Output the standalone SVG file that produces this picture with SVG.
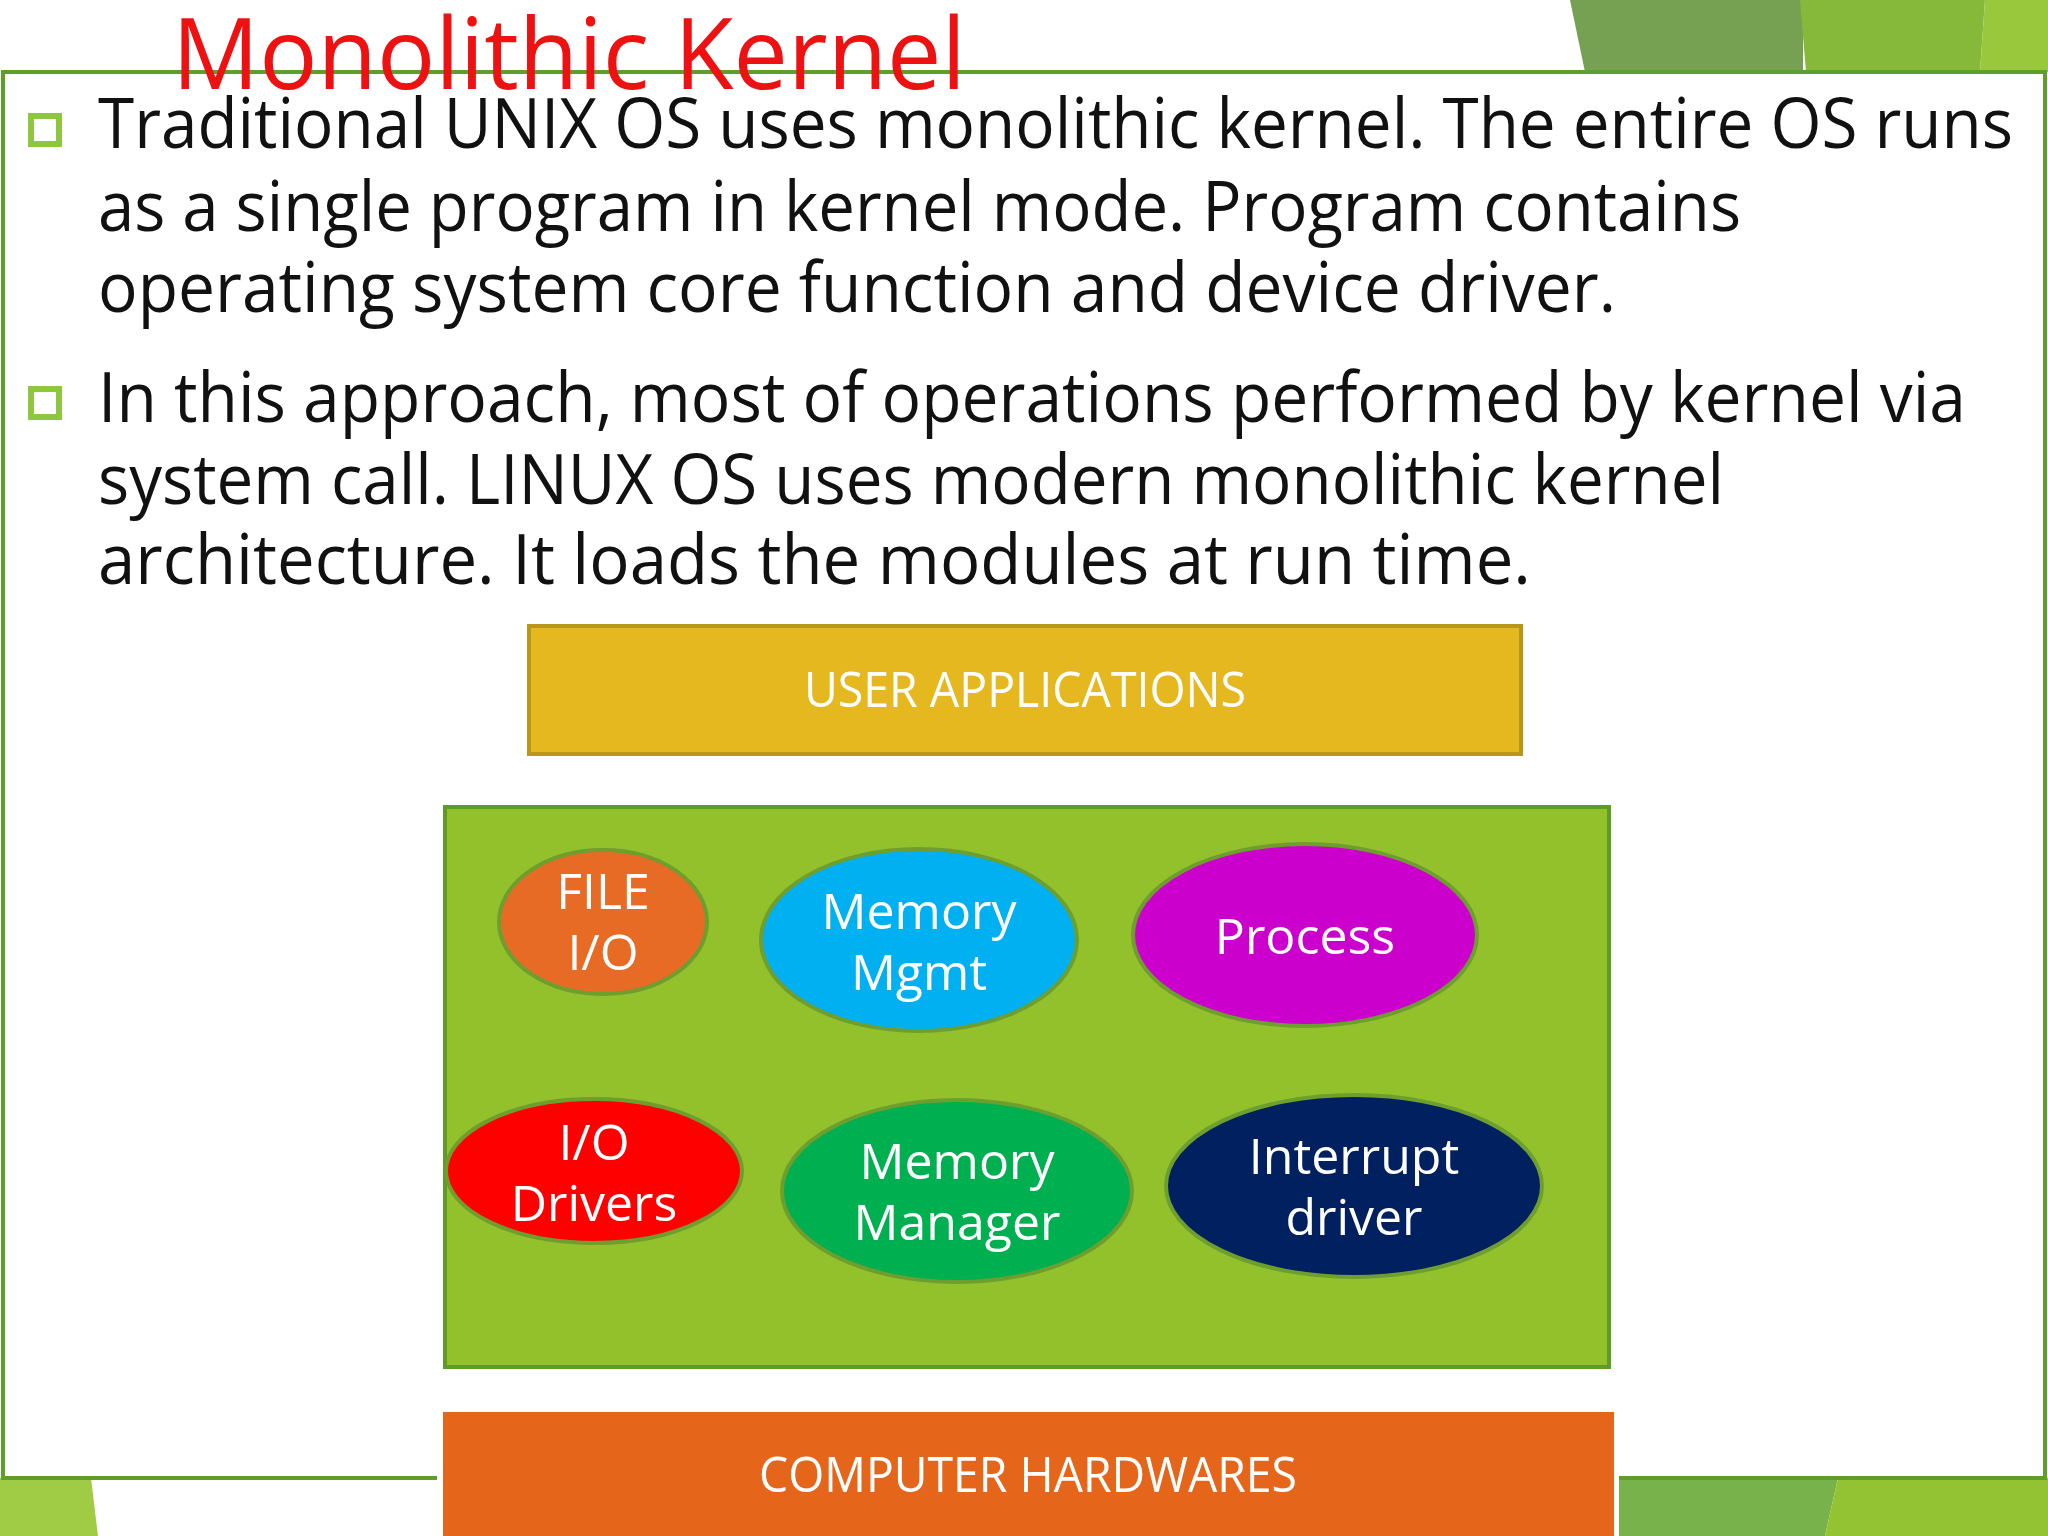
<svg xmlns="http://www.w3.org/2000/svg" width="2048" height="1536" viewBox="0 0 2048 1536">
<style>
text{font-family:"Open Sans","DejaVu Sans",sans-serif}
.body{font-size:70px;fill:#111}
.lbl{font-size:50px;fill:#fff;text-anchor:middle}
.el{stroke:#6E9E2E;stroke-width:4}
.bul{fill:none;stroke:#8DC63F;stroke-width:6}
</style>
<rect width="2048" height="1536" fill="#fff"/>
<g id="decor">
<polygon points="1570,0 1803,0 1803,72 1585,72" fill="#76A052"/>
<polygon points="1800,0 1985,0 1980,72 1806,72" fill="#86B93A"/>
<polygon points="1985,0 2048,0 2048,72 1980,72" fill="#99C83C"/>
<polygon points="0,1478 91,1478 98,1536 0,1536" fill="#9FCB45"/>
<polygon points="1619,1478 1838,1478 1825,1536 1619,1536" fill="#78B24A"/>
<polygon points="1838,1478 2048,1478 2048,1536 1825,1536" fill="#93C232"/>
<polyline points="437,1478 3,1478 3,72 2045,72 2045,1478 1619,1478" fill="none" stroke="#5E9E2C" stroke-width="4"/>
</g>
<text x="172" y="89" font-size="98" fill="#EE1111" textLength="794" lengthAdjust="spacingAndGlyphs">Monolithic Kernel</text>
<g id="bullets">
<rect x="31" y="116" width="28" height="28" class="bul"/>
<rect x="31" y="389" width="28" height="28" class="bul"/>
<text class="body" x="98" y="148" textLength="1915" lengthAdjust="spacingAndGlyphs">Traditional UNIX OS uses monolithic kernel. The entire OS runs</text>
<text class="body" x="98" y="231" textLength="1643" lengthAdjust="spacingAndGlyphs">as a single program in kernel mode. Program contains</text>
<text class="body" x="98" y="312" textLength="1518" lengthAdjust="spacingAndGlyphs">operating system core function and device driver.</text>
<text class="body" x="98" y="422" textLength="1868" lengthAdjust="spacingAndGlyphs">In this approach, most of operations performed by kernel via</text>
<text class="body" x="98" y="504" textLength="1626" lengthAdjust="spacingAndGlyphs">system call. LINUX OS uses modern monolithic kernel</text>
<text class="body" x="98" y="584" textLength="1433" lengthAdjust="spacingAndGlyphs">architecture. It loads the modules at run time.</text>
</g>
<g id="user-apps">
<rect x="529" y="626" width="992" height="128" fill="#E6B820" stroke="#B8961A" stroke-width="4"/>
<text class="lbl" x="1025" y="707" textLength="442" lengthAdjust="spacingAndGlyphs">USER APPLICATIONS</text>
</g>
<g id="kernel">
<rect x="445" y="807" width="1164" height="560" fill="#92C12C" stroke="#5E9C2A" stroke-width="4"/>
</g>
<g id="file-io">
<ellipse cx="603" cy="922" rx="104" ry="72" fill="#E76B25" class="el"/>
<text class="lbl" x="603" y="909">FILE</text><text class="lbl" x="603" y="970">I/O</text>
</g>
<g id="memory-mgmt">
<ellipse cx="919" cy="940" rx="158" ry="91" fill="#00B0F0" class="el"/>
<text class="lbl" x="919" y="929">Memory</text><text class="lbl" x="919" y="990">Mgmt</text>
</g>
<g id="process">
<ellipse cx="1305" cy="935" rx="172" ry="91" fill="#CC00CC" class="el"/>
<text class="lbl" x="1305" y="954">Process</text>
</g>
<g id="io-drivers">
<ellipse cx="594" cy="1171" rx="148" ry="72" fill="#FF0000" class="el"/>
<text class="lbl" x="594" y="1160">I/O</text><text class="lbl" x="594" y="1221">Drivers</text>
</g>
<g id="memory-manager">
<ellipse cx="957" cy="1191" rx="175" ry="91" fill="#00B050" class="el"/>
<text class="lbl" x="957" y="1179">Memory</text><text class="lbl" x="957" y="1240">Manager</text>
</g>
<g id="interrupt-driver">
<ellipse cx="1354" cy="1186" rx="188" ry="91" fill="#002060" class="el"/>
<text class="lbl" x="1354" y="1174">Interrupt</text><text class="lbl" x="1354" y="1235">driver</text>
</g>
<g id="hardware">
<rect x="443" y="1412" width="1171" height="124" fill="#E5661A"/>
<text class="lbl" x="1028" y="1492" textLength="538" lengthAdjust="spacingAndGlyphs">COMPUTER HARDWARES</text>
</g>
<g id="connectors"/>
</svg>
